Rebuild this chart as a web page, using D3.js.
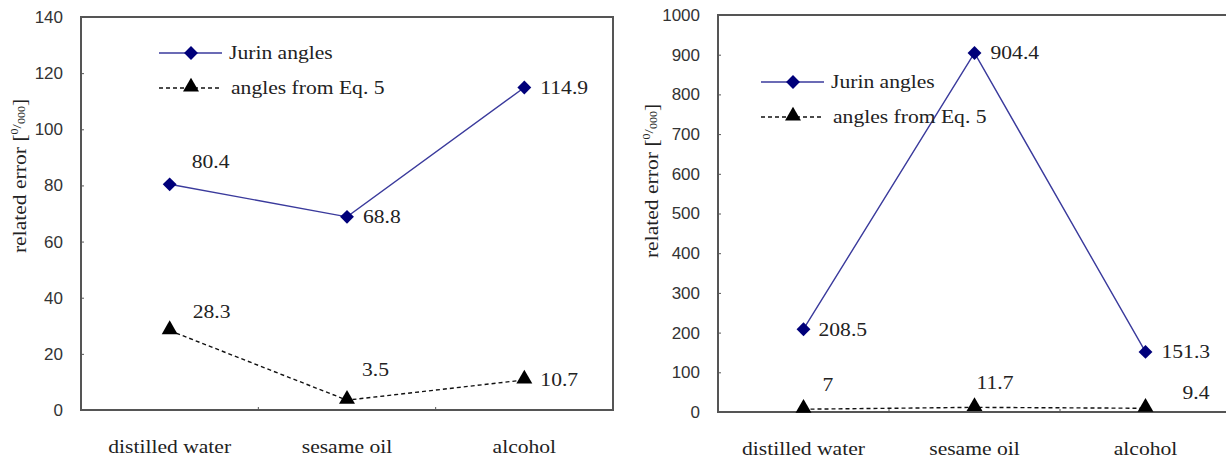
<!DOCTYPE html>
<html>
<head>
<meta charset="utf-8">
<script src="https://cdn.jsdelivr.net/npm/d3@7"></script>
<style>
  body { margin: 0; background: #fff; }
  svg { display: block; }
</style>
</head>
<body>
<svg width="1226" height="462"></svg>
<script>
// chart data
const categories = ["distilled water", "sesame oil", "alcohol"];
const seriesNames = ["Jurin angles", "angles from Eq. 5"];
const jurinLeft = [80.4, 68.8, 114.9];
const eq5Left = [28.3, 3.5, 10.7];
const jurinRight = [208.5, 904.4, 151.3];
const eq5Right = [7, 11.7, 9.4];
const ticksLeft = [0, 20, 40, 60, 80, 100, 120, 140];
const ticksRight = [0, 100, 200, 300, 400, 500, 600, 700, 800, 900, 1000];

const svg = d3.select("svg");
const serif = "'Liberation Serif', 'Times New Roman', serif";
const sans = "'Liberation Sans', Arial, sans-serif";
const stretch = 1.2; // source font is wider than Times

function addText(parent, x, y, str, anchor) {
  return parent.append("text")
    .attr("transform", `translate(${x},${y}) scale(${stretch},1)`)
    .attr("text-anchor", anchor || "start")
    .attr("dominant-baseline", "central")
    .style("font-family", serif)
    .style("font-size", "18px")
    .attr("fill", "#222")
    .text(str);
}

function drawPanel(cfg) {
  const g = svg.append("g");
  const x = d3.scaleBand().domain(categories).range([cfg.left, cfg.right]);
  const y = d3.scaleLinear().domain([0, cfg.ticks[cfg.ticks.length - 1]]).range([cfg.bottom, cfg.top]);
  const cx = (c) => x(c) + x.bandwidth() / 2;

  // y axis
  const yAxis = d3.axisLeft(y).tickValues(cfg.ticks).tickFormat(d3.format("d"))
    .tickSize(-3).tickPadding(18);
  const ya = g.append("g").attr("transform", `translate(${cfg.left},0)`).call(yAxis);
  ya.select(".domain").remove();
  ya.selectAll("line").attr("stroke", "#555");
  ya.selectAll("text").style("font-family", sans).style("font-size", "17px").attr("fill", "#333");

  // x axis labels
  const xAxis = d3.axisBottom(x).tickSize(0).tickPadding(0);
  const xa = g.append("g").attr("transform", `translate(0,${cfg.bottom})`).call(xAxis);
  xa.select(".domain").remove();
  xa.selectAll("text")
    .attr("y", 0)
    .attr("dy", 0)
    .attr("transform", `translate(0,37) scale(${stretch},1)`)
    .attr("dominant-baseline", "central")
    .style("font-family", serif).style("font-size", "18px").attr("fill", "#222");

  // boundary ticks
  g.selectAll(".xtick").data(categories.slice(1)).join("line")
    .attr("x1", (d) => x(d)).attr("x2", (d) => x(d))
    .attr("y1", cfg.bottom).attr("y2", cfg.bottom - 3)
    .attr("stroke", "#555");

  // plot frame
  g.append("rect")
    .attr("x", cfg.left).attr("y", cfg.top)
    .attr("width", cfg.right - cfg.left).attr("height", cfg.bottom - cfg.top)
    .attr("fill", "none").attr("stroke", "#555").attr("stroke-width", 2);

  // y axis title
  const yt = g.append("text")
    .attr("transform", `translate(${cfg.titleX},${cfg.titleY}) rotate(-90) scale(${stretch},1)`)
    .attr("text-anchor", "middle")
    .attr("dominant-baseline", "central")
    .style("font-family", serif).style("font-size", "18px").attr("fill", "#222");
  yt.append("tspan").text("related error [");
  yt.append("tspan").attr("dy", -6).style("font-size", "10px").text("0");
  yt.append("tspan").attr("dy", 2).style("font-size", "13px").text("/");
  yt.append("tspan").attr("dy", 5).style("font-size", "10px").text("000");
  yt.append("tspan").attr("dy", -1).text("]");

  const jurin = categories.map((c, i) => ({ c, v: cfg.jurin[i] }));
  const eq5 = categories.map((c, i) => ({ c, v: cfg.eq5[i] }));
  const line = d3.line().x((d) => cx(d.c)).y((d) => y(d.v));

  // series lines
  g.append("path").datum(eq5).attr("d", line)
    .attr("fill", "none").attr("stroke", "#111").attr("stroke-width", 1.4)
    .attr("stroke-dasharray", "4,3");
  g.append("path").datum(jurin).attr("d", line)
    .attr("fill", "none").attr("stroke", "#3a3a9c").attr("stroke-width", 1.4);

  const diamond = d3.symbol().type(d3.symbolSquare).size(96);
  const triangle = d3.symbol().type(d3.symbolTriangle).size(110);

  g.selectAll(".dia").data(jurin).join("path")
    .attr("d", diamond)
    .attr("transform", (d) => `translate(${cx(d.c)},${y(d.v)}) rotate(45)`)
    .attr("fill", "#00007a");
  g.selectAll(".tri").data(eq5).join("path")
    .attr("d", triangle)
    .attr("transform", (d) => `translate(${cx(d.c)},${y(d.v) - 1})`)
    .attr("fill", "#000");

  // value labels
  jurin.forEach((d, i) => {
    const o = cfg.jurinOff[i];
    addText(g, cx(d.c) + o[0], y(d.v) + o[1], d.v.toString());
  });
  eq5.forEach((d, i) => {
    const o = cfg.eq5Off[i];
    addText(g, cx(d.c) + o[0], y(d.v) + o[1], d.v.toString());
  });

  // legend
  const lg = g.append("g").attr("transform", `translate(${cfg.legX},${cfg.legY})`);
  lg.append("line").attr("x1", 0).attr("x2", 63).attr("y1", 0).attr("y2", 0)
    .attr("stroke", "#3a3a9c").attr("stroke-width", 1.4);
  lg.append("path").attr("d", diamond).attr("transform", "translate(32,0) rotate(45)").attr("fill", "#00007a");
  addText(lg, 70, 0, seriesNames[0]);
  lg.append("line").attr("x1", 0).attr("x2", 63).attr("y1", 35).attr("y2", 35)
    .attr("stroke", "#111").attr("stroke-width", 1.4).attr("stroke-dasharray", "4,3");
  lg.append("path").attr("d", triangle).attr("transform", "translate(32,34)").attr("fill", "#000");
  addText(lg, 72, 35, seriesNames[1]);
}

drawPanel({
  left: 81, right: 613, top: 17, bottom: 410,
  ticks: ticksLeft, jurin: jurinLeft, eq5: eq5Left,
  jurinOff: [[22, -23], [16, 0], [16, 0]],
  eq5Off: [[23, -19], [15, -31], [16, 0]],
  titleX: 20, titleY: 176,
  legX: 159, legY: 53
});

drawPanel({
  left: 718, right: 1231, top: 15, bottom: 412,
  ticks: ticksRight, jurin: jurinRight, eq5: eq5Right,
  jurinOff: [[15, 0], [16, 0], [16, 0]],
  eq5Off: [[19, -25], [2, -25], [37, -16]],
  titleX: 652, titleY: 181,
  legX: 761, legY: 82
});
</script>
</body>
</html>
